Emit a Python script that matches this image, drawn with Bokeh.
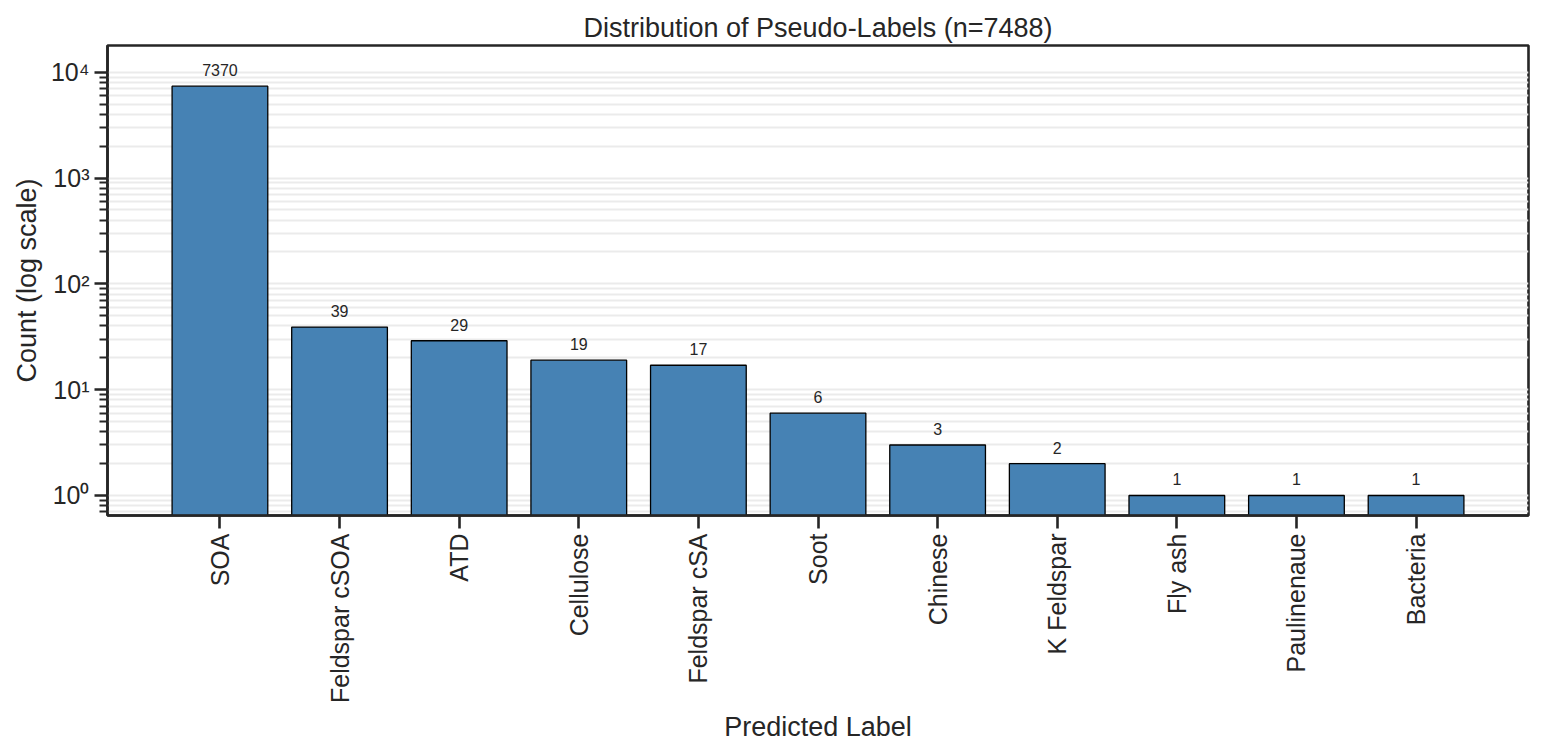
import numpy as np
from bokeh.plotting import figure
from bokeh.models import Range1d, FixedTicker, ColumnDataSource
from bokeh.core.properties import value
from bokeh.embed import file_html
from bokeh.resources import INLINE

# ---- data ----
categories = ["SOA", "Feldspar cSOA", "ATD", "Cellulose", "Feldspar cSA", "Soot",
              "Chinese", "K Feldspar", "Fly ash", "Paulinenaue", "Bacteria"]
counts = [7370, 39, 29, 19, 17, 6, 3, 2, 1, 1, 1]
total_n = 7488
y_major_ticks = [1, 10, 100, 1000, 10000]
y_major_labels = ["10\u2070", "10\u00b9", "10\u00b2", "10\u00b3", "10\u2074"]

FONT = "Liberation Sans"
TXT = "#262626"

xs = list(range(len(categories)))
src = ColumnDataSource(dict(x=xs, top=counts, lab=[str(c) for c in counts]))

p = figure(width=1540, height=745, output_backend="svg", toolbar_location=None,
           y_axis_type="log",
           x_range=Range1d(-0.94, len(categories) - 1 + 0.94),
           y_range=Range1d(0.647, 17870),
           min_border_left=107, min_border_right=12, min_border_top=45, min_border_bottom=230,
           title=f"Distribution of Pseudo-Labels (n={total_n})")

p.title.align = "center"
p.title.text_font = FONT
p.title.text_font_size = "27px"
p.title.text_font_style = "normal"
p.title.text_color = TXT
p.title.standoff = 5

p.vbar(x="x", top="top", bottom=0.01, width=0.8, source=src,
       fill_color="#4682b4", line_color="#000000", line_width=1.3)

p.text(x="x", y="top", text="lab", source=src, y_offset=-10,
       text_align="center", text_baseline="bottom",
       text_font=value(FONT), text_font_size="16px", text_color=TXT)

p.outline_line_color = TXT
p.outline_line_width = 2.6
p.background_fill_color = "white"
p.border_fill_color = "white"

# grid
p.xgrid.visible = False
p.ygrid.grid_line_color = "#ebebeb"
p.ygrid.grid_line_width = 1.8
p.ygrid.minor_grid_line_color = "#ebebeb"
p.ygrid.minor_grid_line_width = 1.8

minor = [m * 10.0 ** e for e in range(-1, 5) for m in range(2, 10)]
p.yaxis.ticker = FixedTicker(ticks=y_major_ticks, minor_ticks=minor)
p.yaxis.major_label_overrides = {t: l for t, l in zip(y_major_ticks, y_major_labels)}
p.xaxis.ticker = FixedTicker(ticks=xs, minor_ticks=[])
p.xaxis.major_label_overrides = {i: c for i, c in zip(xs, categories)}
p.xaxis.major_label_orientation = np.pi / 2

for ax in (p.xaxis, p.yaxis):
    ax.axis_line_color = TXT
    ax.axis_line_width = 2.6
    ax.major_tick_line_color = TXT
    ax.major_tick_line_width = 2.6
    ax.major_tick_out = 13
    ax.major_tick_in = 0
    ax.minor_tick_line_color = TXT
    ax.minor_tick_line_width = 2.0
    ax.minor_tick_out = 8
    ax.minor_tick_in = 0
    ax.major_label_text_font = FONT
    ax.major_label_text_font_size = "25px"
    ax.major_label_text_color = TXT
    ax.major_label_standoff = 5
    ax.axis_label_text_font = FONT
    ax.axis_label_text_font_size = "27px"
    ax.axis_label_text_font_style = "normal"
    ax.axis_label_text_color = TXT
    ax.axis_label_standoff = 6

p.xaxis.axis_label = "Predicted Label"
p.yaxis.axis_label = "Count (log scale)"

open("out.html", "w").write(file_html(p, INLINE))
